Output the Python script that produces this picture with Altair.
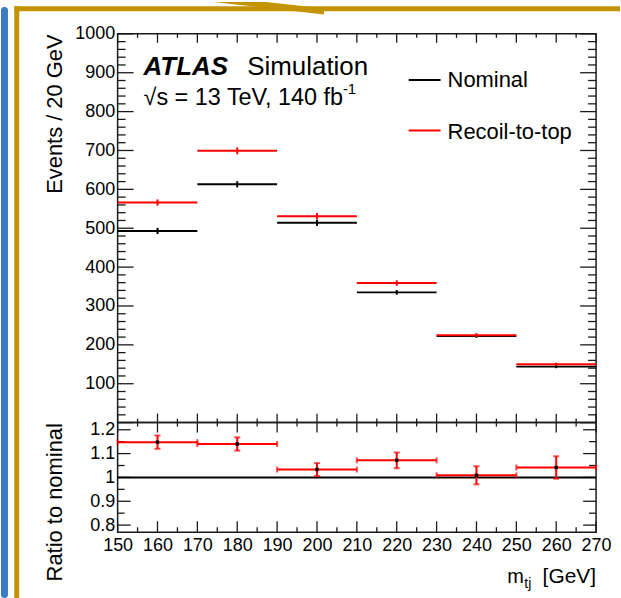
import altair as alt
import pandas as pd

FONT = "Liberation Sans"
RED = "#ff0000"
FRAME = "#1a1a1a"
GOLD = "#c49300"

# m_tj bins (GeV) and event yields per 20 GeV
bin_low = [150, 170, 190, 210, 230, 250]
bin_width = 20
nominal = [493, 613, 514, 335, 223, 144]
nominal_err = [8, 8, 8, 6, 5, 4]
recoil = [566, 699, 531, 359, 225, 150]
recoil_err = [8, 9, 8, 7, 5, 4]
ratio_err = [0.028, 0.028, 0.027, 0.033, 0.038, 0.047]

# axis label values
x_labels = [150, 160, 170, 180, 190, 200, 210, 220, 230, 240, 250, 260, 270]
events_labels = [100, 200, 300, 400, 500, 600, 700, 800, 900, 1000]
ratio_labels = [0.8, 0.9, 1.0, 1.1, 1.2]

# inward tick positions
x_major = list(range(150, 271, 10))
x_minor = list(range(155, 270, 10))
ev_major = list(range(0, 1001, 100))
ev_minor = [v for v in range(0, 1001, 20) if v % 100]
ratio_major = [0.8, 0.9, 1.0, 1.1, 1.2]
ratio_minor = [0.85, 0.95, 1.05, 1.15]

W, H_TOP, H_BOT = 480, 390, 110

rows = []
for lo, n, ne, r, re_, qe in zip(bin_low, nominal, nominal_err, recoil, recoil_err, ratio_err):
    q = r / n
    rows.append(dict(lo=lo, hi=lo + bin_width, mid=lo + bin_width / 2,
                     nom=n, nom_lo=n - ne, nom_hi=n + ne,
                     rec=r, rec_lo=r - re_, rec_hi=r + re_,
                     ratio=q, ratio_lo=q - qe, ratio_hi=q + qe))
df = pd.DataFrame(rows)
one = pd.DataFrame({"k": [0]})

x_scale = alt.Scale(domain=[150, 270], nice=False, zero=False)
y_top = alt.Scale(domain=[0, 1000], nice=False, zero=False)
y_bot = alt.Scale(domain=[0.77, 1.23], nice=False, zero=False)

common_axis = dict(
    labelFont=FONT, labelFontSize=18, labelColor="black",
    titleFont=FONT, titleFontSize=22, titleFontWeight="normal", titleColor="black",
    ticks=False, tickSize=0, domain=False, grid=False,
    labelFlush=False, labelOverlap=False, format="~f",
)

top_axis = alt.Axis(values=events_labels, labelPadding=3, title="Events / 20 GeV",
                    titleAngle=270, titleAlign="right", titleBaseline="alphabetic",
                    titleX=-56, titleY=0, **common_axis)
bot_axis = alt.Axis(values=ratio_labels, labelPadding=3, title="Ratio to nominal",
                    titleAngle=270, titleAlign="right", titleBaseline="alphabetic",
                    titleX=-56, titleY=0, **common_axis)
bot_x_axis = alt.Axis(values=x_labels, labelPadding=4, title=None, **common_axis)


def xq(field):
    return alt.X(field, type="quantitative", scale=x_scale, axis=None)


def xb(field):
    return alt.X(field, type="quantitative", scale=x_scale, axis=bot_x_axis)


def yt(field):
    return alt.Y(field, type="quantitative", scale=y_top, axis=top_axis)


def yb(field):
    return alt.Y(field, type="quantitative", scale=y_bot, axis=bot_axis)


def tick_df(values):
    return pd.DataFrame({"v": values})


def rule(data, **kw):
    width = kw.pop("strokeWidth", 1.3)
    color = kw.pop("color", FRAME)
    return alt.Chart(data).mark_rule(color=color, strokeWidth=width).encode(**kw)


def label(text, x, y, size, **style):
    return alt.Chart(one).mark_text(
        text=text, font=FONT, fontSize=size, align=style.pop("align", "left"),
        baseline="alphabetic", color="black", **style
    ).encode(x=alt.value(x), y=alt.value(y))


# slanted gold strip at the top of the slide frame (unit-box path)
WEDGE = "M -1 -0.1144 L -0.045 -0.1144 L 1 0.0045 L 1 0.1144 Z"

# ---------------- upper panel: yields ----------------
top_layers = [
    # slide frame around the figure
    alt.Chart(one).mark_rect(color="#3b7cc0", cornerRadius=3).encode(
        x=alt.value(-117), x2=alt.value(-110), y=alt.value(-27), y2=alt.value(566)),
    alt.Chart(one).mark_rect(color=GOLD).encode(
        x=alt.value(-103.7), x2=alt.value(-98.7), y=alt.value(-27.7), y2=alt.value(566)),
    alt.Chart(one).mark_rect(color=GOLD).encode(
        x=alt.value(-103.7), x2=alt.value(504), y=alt.value(-27.7), y2=alt.value(-22.7)),
    alt.Chart(one).mark_point(filled=True, color=GOLD, opacity=1, size=12321,
                              shape=WEDGE).encode(
        x=alt.value(151.5), y=alt.value(-25.65)),
    # inward ticks
    rule(tick_df(ev_major), y=yt("v"), x=alt.value(0), x2=alt.value(16)),
    rule(tick_df(ev_minor), y=yt("v"), x=alt.value(0), x2=alt.value(8)),
    rule(tick_df(ev_major), y=yt("v"), x=alt.value(W - 16), x2=alt.value(W)),
    rule(tick_df(ev_minor), y=yt("v"), x=alt.value(W - 8), x2=alt.value(W)),
    rule(tick_df(x_major), x=xq("v"), y=alt.value(0), y2=alt.value(9)),
    rule(tick_df(x_minor), x=xq("v"), y=alt.value(0), y2=alt.value(4)),
    rule(tick_df(x_major), x=xq("v"), y=alt.value(H_TOP - 9), y2=alt.value(H_TOP)),
    rule(tick_df(x_minor), x=xq("v"), y=alt.value(H_TOP - 4), y2=alt.value(H_TOP)),
    # nominal
    rule(df, x=xq("lo"), x2="hi:Q", y=yt("nom"), color="black", strokeWidth=2),
    rule(df, x=xq("mid"), y=yt("nom_lo"), y2="nom_hi:Q", color="black", strokeWidth=2),
    # recoil-to-top
    rule(df, x=xq("lo"), x2="hi:Q", y=yt("rec"), color=RED, strokeWidth=2),
    rule(df, x=xq("mid"), y=yt("rec_lo"), y2="rec_hi:Q", color=RED, strokeWidth=2),
    # labels and legend
    label("ATLAS", 26, 41.3, 26, fontStyle="italic", fontWeight="bold"),
    label("Simulation", 130, 41.3, 26),
    label("\u221As = 13 TeV, 140 fb", 26, 71.3, 23.5),
    label("-1", 226, 60, 15),
    rule(one, x=alt.value(292), x2=alt.value(324), y=alt.value(46.3), color="black", strokeWidth=2),
    label("Nominal", 331, 53, 22),
    rule(one, x=alt.value(292), x2=alt.value(324), y=alt.value(97), color=RED, strokeWidth=2),
    label("Recoil-to-top", 331, 105, 22),
]
top = alt.layer(*top_layers).properties(width=W, height=H_TOP)

# ---------------- lower panel: ratio ----------------
unity = pd.DataFrame({"one": [1.0]})
bot_layers = [
    rule(tick_df(ratio_major), y=yb("v"), x=alt.value(0), x2=alt.value(13)),
    rule(tick_df(ratio_minor), y=yb("v"), x=alt.value(0), x2=alt.value(7)),
    rule(tick_df(ratio_major), y=yb("v"), x=alt.value(W - 13), x2=alt.value(W)),
    rule(tick_df(ratio_minor), y=yb("v"), x=alt.value(W - 7), x2=alt.value(W)),
    rule(tick_df(x_major), x=xb("v"), y=alt.value(0), y2=alt.value(10)),
    rule(tick_df(x_minor), x=xb("v"), y=alt.value(0), y2=alt.value(4)),
    rule(tick_df(x_major), x=xb("v"), y=alt.value(H_BOT - 11), y2=alt.value(H_BOT)),
    rule(tick_df(x_minor), x=xb("v"), y=alt.value(H_BOT - 5), y2=alt.value(H_BOT)),
    rule(unity, y=yb("one"), x=alt.value(0), x2=alt.value(W), color="black", strokeWidth=2),
    rule(df, x=xb("lo"), x2="hi:Q", y=yb("ratio"), color=RED, strokeWidth=2),
    alt.Chart(df).mark_tick(orient="vertical", size=6, thickness=2, color=RED).encode(
        x=xb("lo"), y=yb("ratio")),
    alt.Chart(df).mark_tick(orient="vertical", size=6, thickness=2, color=RED).encode(
        x=xb("hi"), y=yb("ratio")),
    rule(df, x=xb("mid"), y=yb("ratio_lo"), y2="ratio_hi:Q", color=RED, strokeWidth=2),
    alt.Chart(df).mark_tick(orient="horizontal", size=6, thickness=2, color=RED).encode(
        x=xb("mid"), y=yb("ratio_lo")),
    alt.Chart(df).mark_tick(orient="horizontal", size=6, thickness=2, color=RED).encode(
        x=xb("mid"), y=yb("ratio_hi")),
    alt.Chart(df).mark_square(color="black", size=12, opacity=1).encode(
        x=xb("mid"), y=yb("ratio")),
    # x-axis title with subscript
    label("m", 391, 161, 20),
    label("tj", 408, 166, 14),
    label("[GeV]", W, 161, 21, align="right"),
]
bottom = alt.layer(*bot_layers).properties(width=W, height=H_BOT)

chart = alt.vconcat(top, bottom, spacing=0, bounds="flush").properties(
    padding=0, background="white"
).configure_view(stroke=FRAME, strokeWidth=1.5)

chart.save("out.html", embed_options={"renderer": "svg", "actions": False})
